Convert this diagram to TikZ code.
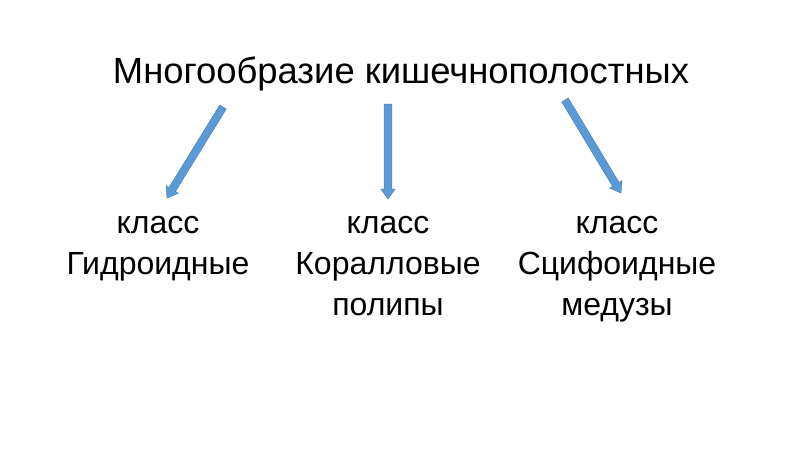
\documentclass[tikz,border=0pt]{standalone}
\usepackage{fontspec}
\setmainfont{Liberation Sans}
\usetikzlibrary{calc}
\definecolor{arrfill}{HTML}{5B9BD5}
\definecolor{arrline}{HTML}{4A84BC}
\tikzset{
  lbl/.style={align=center, font=\fontsize{32}{41}\selectfont, inner sep=0pt, anchor=north},
  ttl/.style={font=\fontsize{36.4}{40}\selectfont, inner sep=0pt, anchor=base},
  blockarrow/.style={fill=arrfill, draw=arrline, line width=0.5pt, line join=miter}
}
\newcommand{\blockarr}[2]{%
  \path coordinate (hh) at ($(#2)!10pt!(#1)$);
  \draw[blockarrow] ($(#1)!3.8pt!90:(#2)$) -- ($(hh)!3.8pt!90:(#2)$) -- ($(hh)!7.2pt!90:(#2)$) -- (#2)
    -- ($(hh)!7.2pt!-90:(#2)$) -- ($(hh)!3.8pt!-90:(#2)$) -- ($(#1)!3.8pt!-90:(#2)$) -- cycle;}
\begin{document}
\begin{tikzpicture}[x=1pt,y=-1pt]
\useasboundingbox (0,0) rectangle (800,450);
\node[ttl] (title) at (401,83) {Многообразие кишечнополостных};
\node[lbl] (l1) at (158,216) {класс\\Гидроидные};
\node[lbl] (l2) at (388,216) {класс\\Коралловые\\полипы};
\node[lbl] (l3) at (617,216) {класс\\Сцифоидные\\медузы};
\coordinate (a1s) at (223,107); \coordinate (a1e) at (167,198);
\coordinate (a2s) at (388,104); \coordinate (a2e) at (388,199);
\coordinate (a3s) at (565,100); \coordinate (a3e) at (621,193);
\blockarr{a1s}{a1e}
\blockarr{a2s}{a2e}
\blockarr{a3s}{a3e}
\end{tikzpicture}
\end{document}
